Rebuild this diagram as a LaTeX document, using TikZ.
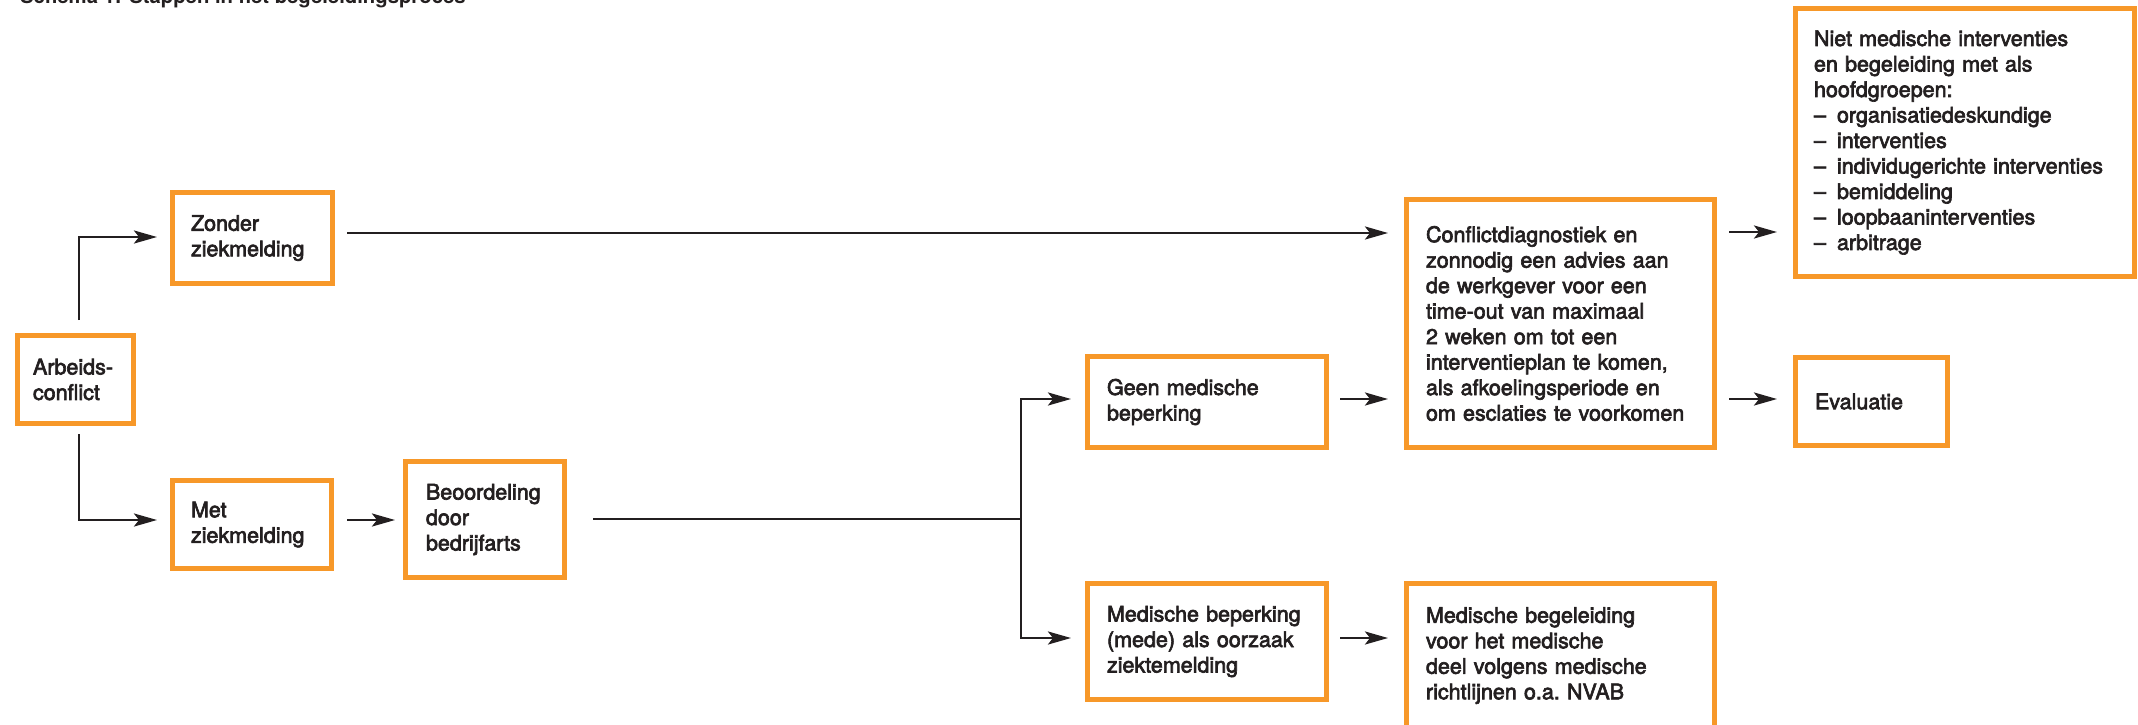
\documentclass[tikz,border=0pt]{standalone}
\usepackage{fontspec}
\setmainfont{TeX Gyre Heros}
\newfontfamily\bxfont{TeX Gyre Heros}[FakeBold=3]
\usetikzlibrary{arrows.meta}
\definecolor{orng}{RGB}{247,152,41}
\definecolor{ink}{RGB}{35,31,32}
\tikzset{
  bx/.style={draw=orng, line width=5pt, rectangle, anchor=north west, outer sep=0pt,
    inner ysep=0pt, align=left, text=ink,
    font=\bxfont\fontsize{21.5}{25.5}\selectfont},
  conn/.style={draw=ink, line width=2.7pt},
  arr/.style={conn, -{Stealth[length=23pt,width=13pt,inset=5pt]}},
}
\newcommand\dsh{\makebox[23pt][l]{–}}
\begin{document}
\begin{tikzpicture}[x=1pt,y=-1pt]
\useasboundingbox (0,0) rectangle (2138,724);
\clip (0,0) rectangle (2138,724);

\node[anchor=base west, inner sep=0pt, text=ink, font=\fontsize{20.3}{24}\selectfont\bfseries] (title) at (20,3) {Schema 1: Stappen in het begeleidingsproces};

\node[bx, minimum width=116pt, minimum height=88pt, inner xsep=15.5pt, text width=85pt] (arb) at (17.5,335.5) {Arbeids-\\conflict};
\node[bx, minimum width=160pt, minimum height=91pt, inner xsep=18.5pt, text width=123pt] (zon) at (172.5,192.5) {Zonder\\ziekmelding};
\node[bx, minimum width=159pt, minimum height=88pt, inner xsep=18.5pt, text width=122pt] (met) at (172.5,480.5) {Met\\ziekmelding};
\node[bx, minimum width=159pt, minimum height=116pt, inner xsep=20.5pt, text width=118pt] (beo) at (405.5,461.5) {Beoordeling\\door\\bedrijfarts};
\node[bx, minimum width=239pt, minimum height=91pt, inner xsep=19.5pt, text width=200pt] (geen) at (1087.5,356.5) {Geen medische\\beperking};
\node[bx, minimum width=239pt, minimum height=116pt, inner xsep=19.5pt, text width=200pt] (medb) at (1087.5,583.5) {Medische beperking\\(mede) als oorzaak\\ziektemelding};
\node[bx, minimum width=308pt, minimum height=248pt, inner xsep=19.5pt, text width=269pt] (conf) at (1406.5,199.5) {Conflictdiagnostiek en\\zonnodig een advies aan\\de werkgever voor een\\time-out van maximaal\\2 weken om tot een\\interventieplan te komen,\\als afkoelingsperiode en\\om esclaties te voorkomen};
\node[bx, minimum width=308pt, minimum height=144pt, inner xsep=19.5pt, text width=269pt] (medbeg) at (1406.5,583.5) {Medische begeleiding\\voor het medische\\deel volgens medische\\richtlijnen o.a.\ NVAB};
\node[bx, minimum width=339pt, minimum height=268pt, inner xsep=18.5pt, text width=302pt] (niet) at (1795.5,8.5) {Niet medische interventies\\en begeleiding met als\\hoofdgroepen:\\\dsh organisatiedeskundige\\\dsh interventies\\\dsh individugerichte interventies\\\dsh bemiddeling\\\dsh loopbaaninterventies\\\dsh arbitrage};
\node[bx, minimum width=152pt, minimum height=88pt, inner xsep=19.5pt, text width=113pt] (eval) at (1795.5,357.5) {Evaluatie};

\coordinate (j) at (1021,519);

\draw[arr, shorten <=15.5pt, shorten >=15.5pt] ([xshift=3.5pt]arb.north) |- (zon.west |- 0,237);
\draw[arr, shorten <=10.5pt, shorten >=15.5pt] ([xshift=3.5pt]arb.south) |- (met.west |- 0,520);
\draw[arr, shorten <=14.5pt, shorten >=18.5pt] (zon.east |- 0,233) -- (conf.west |- 0,233);
\draw[arr, shorten <=15.5pt, shorten >=10.5pt] (met.east |- 0,520) -- (beo.west |- 0,520);
\draw[conn, shorten <=28.5pt] (beo.east |- j) -- (j);
\draw[arr, shorten >=16.5pt] (j) |- (geen.west |- 0,399);
\draw[arr, shorten >=16.5pt] (j) |- (medb.west |- 0,638);
\draw[arr, shorten <=13.5pt, shorten >=18.5pt] (geen.east |- 0,399) -- (conf.west |- 0,399);
\draw[arr, shorten <=13.5pt, shorten >=18.5pt] (medb.east |- 0,638) -- (medbeg.west |- 0,638);
\draw[arr, shorten <=14.5pt, shorten >=18.5pt] (conf.east |- 0,232) -- (niet.west |- 0,232);
\draw[arr, shorten <=14.5pt, shorten >=18.5pt] (conf.east |- 0,399) -- (eval.west |- 0,399);
\end{tikzpicture}
\end{document}
